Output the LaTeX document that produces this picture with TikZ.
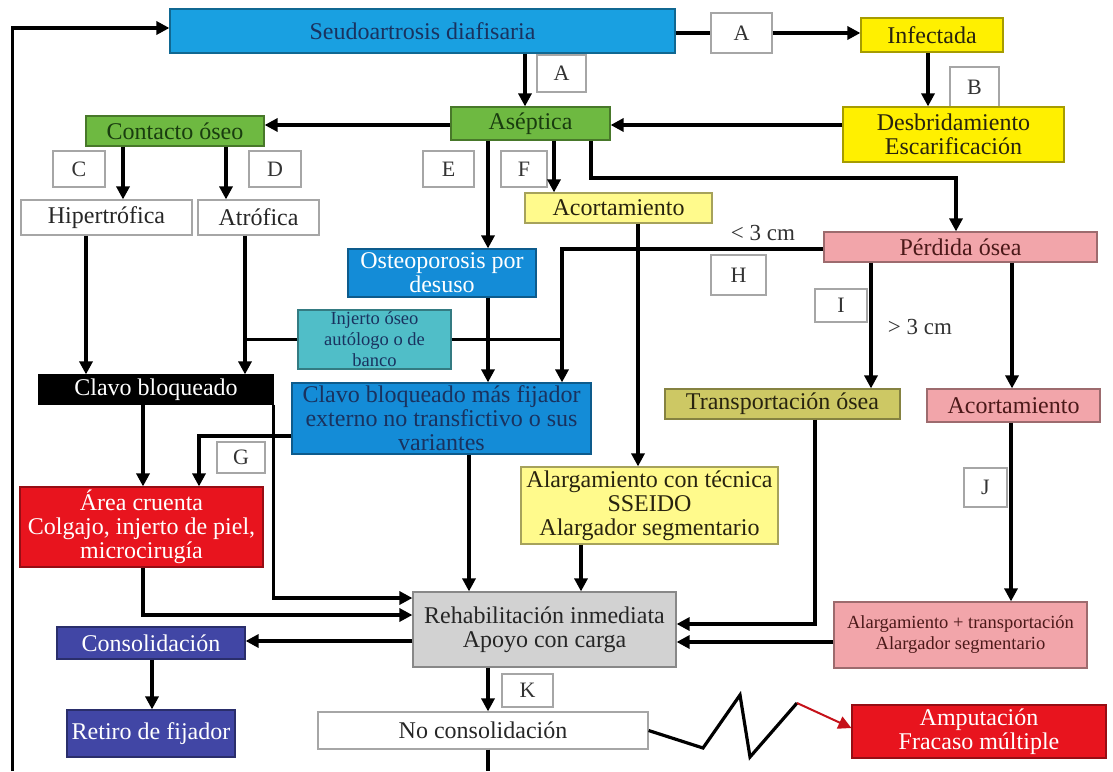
\documentclass[tikz,border=0pt]{standalone}
\usepackage{fontspec}
\setmainfont{Liberation Serif}
\usetikzlibrary{arrows.meta}

\definecolor{cseudo}{RGB}{25,160,225}
\definecolor{cnavy}{RGB}{25,50,95}
\definecolor{cyel}{RGB}{255,240,0}
\definecolor{cgreen}{RGB}{110,185,65}
\definecolor{cdkgreen}{RGB}{25,60,15}
\definecolor{cpale}{RGB}{255,250,140}
\definecolor{cpink}{RGB}{242,165,170}
\definecolor{cmaroon}{RGB}{75,25,25}
\definecolor{cblue}{RGB}{20,140,215}
\definecolor{cteal}{RGB}{80,190,200}
\definecolor{colive}{RGB}{205,200,100}
\definecolor{cred}{RGB}{232,20,30}
\definecolor{cviolet}{RGB}{65,70,165}
\definecolor{cgray}{RGB}{210,210,210}
\definecolor{ctxt}{RGB}{40,35,15}

\tikzset{
  box/.style={draw=#1!65!black, fill=#1, line width=1.2pt, inner sep=0pt, align=center, font=\fontsize{24}{24}\selectfont},
  small/.style={font=\fontsize{18.5}{21}\selectfont},
  lbl/.style={draw=black!35, fill=white, line width=1.4pt, inner sep=0pt, text=black!80, font=\fontsize{22}{22}\selectfont},
  con/.style={line width=3.2pt, line join=miter},
  arr/.style={con, -{Triangle[length=13pt,width=13pt]}},
}

\begin{document}
\begin{tikzpicture}[x=1pt,y=-1pt]
\useasboundingbox (0,0) rectangle (1113,771);

% letter tags
\node[lbl, minimum width=61, minimum height=40] (la) at (741.5,33) {A};
\node[lbl, minimum width=49, minimum height=37] (lab) at (561.5,73.5) {A};
\node[lbl, minimum width=49, minimum height=40] (lb) at (974.5,87) {B};
\node[lbl, minimum width=52, minimum height=36] (lc) at (79,169) {C};
\node[lbl, minimum width=52, minimum height=36] (ld) at (275,169) {D};
\node[lbl, minimum width=51, minimum height=36] (le) at (448.5,169) {E};
\node[lbl, minimum width=46, minimum height=36] (lf) at (524,169) {F};
\node[lbl, minimum width=55, minimum height=40] (lh) at (738.5,275) {H};
\node[lbl, minimum width=52, minimum height=33] (li) at (841,305.5) {I};
\node[lbl, minimum width=48, minimum height=31] (lg) at (241,457.5) {G};
\node[lbl, minimum width=43, minimum height=39] (lj) at (985.5,487.5) {J};
\node[lbl, minimum width=51, minimum height=33] (lk) at (527.5,690.5) {K};

% boxes
\node[box=cseudo, text=cnavy, minimum width=505, minimum height=44] (seudo) at (422.5,31) {Seudoartrosis diafisaria};
\node[box=cyel, text=ctxt, minimum width=142, minimum height=34] (infect) at (932,35) {Infectada};
\node[box=cyel, text=ctxt, minimum width=221, minimum height=55] (desb) at (953.5,134.5) {Desbridamiento\\Escarificación};
\node[box=cgreen, text=cdkgreen, minimum width=159, minimum height=33] (asep) at (530.5,123.5) {Aséptica};
\node[box=cgreen, text=cdkgreen, minimum width=178, minimum height=30] (contacto) at (175,131) {Contacto óseo};
\node[box=white, text=black!85, minimum width=171, minimum height=35] (hiper) at (106.5,217.5) {Hipertrófica};
\node[box=white, text=black!85, minimum width=121, minimum height=35] (atrof) at (258.5,217.5) {Atrófica};
\node[box=cpale, text=ctxt, minimum width=187, minimum height=30] (acort) at (618.5,208) {Acortamiento};
\node[box=cpink, text=cmaroon, minimum width=273, minimum height=30] (perdida) at (960.5,247) {Pérdida ósea};
\node[box=cblue, text=white, minimum width=188, minimum height=48] (osteo) at (442,273) {Osteoporosis por\\desuso};
\node[box=cteal, small, text=cnavy, minimum width=153, minimum height=59] (injerto) at (374.5,339.5) {Injerto óseo\\autólogo o de\\banco};
\node[box=black, draw=black, text=white, minimum width=234, minimum height=29] (clavo) at (156,389.5) {Clavo bloqueado};
\node[box=cblue, text=cnavy, minimum width=299, minimum height=71] (clavofij) at (441.5,418.5) {Clavo bloqueado más fijador\\externo no transfictivo o sus\\variantes};
\node[box=colive, text=ctxt, minimum width=235, minimum height=30] (transp) at (782.5,404) {Transportación ósea};
\node[box=cpink, text=cmaroon, minimum width=173, minimum height=33] (acortb) at (1013.5,405.5) {Acortamiento};
\node[box=cred, text=white, minimum width=243, minimum height=80] (area) at (141.5,527) {Área cruenta\\Colgajo, injerto de piel,\\microcirugía};
\node[box=cpale, text=ctxt, minimum width=257, minimum height=77] (alarg) at (649.5,505.5) {Alargamiento con técnica\\SSEIDO\\Alargador segmentario};
\node[box=cgray, text=black!85, minimum width=263, minimum height=75] (rehab) at (544.5,629.5) {Rehabilitación inmediata\\Apoyo con carga};
\node[box=cpink, small, text=cmaroon, minimum width=253, minimum height=66] (alargtr) at (960.5,635) {Alargamiento + transportación\\Alargador segmentario};
\node[box=cviolet, text=white, minimum width=188, minimum height=32] (consol) at (151,643) {Consolidación};
\node[box=cviolet, text=white, minimum width=168, minimum height=47] (retiro) at (151,733.5) {Retiro de fijador};
\node[box=white, text=black!85, minimum width=330, minimum height=37] (nocons) at (483,730.5) {No consolidación};
\node[box=cred, text=white, minimum width=254, minimum height=53] (amput) at (979,731.5) {Amputación\\Fracaso múltiple};

\node[font=\fontsize{23}{24}\selectfont, text=black!80] (menos) at (763,233) {< 3 cm};
\node[font=\fontsize{23}{24}\selectfont, text=black!80] (mas) at (920,327) {> 3 cm};

\coordinate (lbot) at (12.5,771);
\coordinate (nbot) at (488,771);

% connectors
\draw[arr] (lbot) |- (seudo.west |- 0,28);
\draw[con] (seudo.east |- la.west) -- (la.west);
\draw[arr] (la.east) -- (infect.west |- la.east);
\draw[arr] (seudo.south -| 525,0) -- (asep.north -| 525,0);
\draw[arr] (infect.south -| 928,0) -- (desb.north -| 928,0);
\draw[arr] (desb.west |- 0,125) -- (asep.east |- 0,125);
\draw[arr] (asep.west |- 0,125) -- (contacto.east |- 0,125);
\draw[arr] (contacto.south -| 123,0) -- (hiper.north -| 123,0);
\draw[arr] (contacto.south -| 226,0) -- (atrof.north -| 226,0);
\draw[arr] (asep.south -| 488,0) -- (osteo.north -| 488,0);
\draw[arr] (asep.south -| 554,0) -- (acort.north -| 554,0);
\draw[arr] (asep.south -| 591,0) |- (956,178) -- (perdida.north -| 956,0);
\draw[arr] (hiper.south -| 86,0) -- (clavo.north -| 86,0);
\draw[arr] (atrof.south -| 245,0) -- (clavo.north -| 245,0);
\draw[con] (injerto.west) -- (injerto.west -| 245,0);
\draw[con] (injerto.east) -- (injerto.east -| 562,0);
\draw[arr] (perdida.west |- 0,249) -| (clavofij.north -| 562,0);
\draw[arr] (osteo.south -| 488,0) -- (clavofij.north -| 488,0);
\draw[arr] (acort.south -| 638,0) -- (alarg.north -| 638,0);
\draw[arr] (perdida.south -| 871,0) -- (transp.north -| 871,0);
\draw[arr] (perdida.south -| 1012,0) -- (acortb.north -| 1012,0);
\draw[arr] (clavo.south -| 143,0) -- (area.north -| 143,0);
\draw[arr] (clavofij.west |- 0,436) -| (area.north -| 199,0);
\draw[arr] (clavo.south east) |- (rehab.west |- 0,598);
\draw[arr] (area.south -| 143,0) |- (rehab.west |- 0,615);
\draw[arr] (clavofij.south -| 469,0) -- (rehab.north -| 469,0);
\draw[arr] (alarg.south -| 581,0) -- (rehab.north -| 581,0);
\draw[arr] (transp.south -| 815,0) |- (rehab.east |- 0,624);
\draw[arr] (acortb.south -| 1011,0) -- (alargtr.north -| 1011,0);
\draw[arr] (alargtr.west |- 0,642) -- (rehab.east |- 0,642);
\draw[arr] (rehab.west |- 0,641) -- (consol.east |- 0,641);
\draw[arr] (consol.south -| 152,0) -- (retiro.north -| 152,0);
\draw[arr] (rehab.south -| 488,0) -- (nocons.north -| 488,0);
\draw[con] (nocons.south -| 488,0) -- (nbot);
\draw[con] (nocons.east) -- (703,748) -- (740,695) -- (750,757) -- (797,703) coordinate (zz); % zigzag
\draw[arr, draw=cred!85!black, line width=2pt] (zz) -- (amput.west |- 0,728);

\end{tikzpicture}
\end{document}
